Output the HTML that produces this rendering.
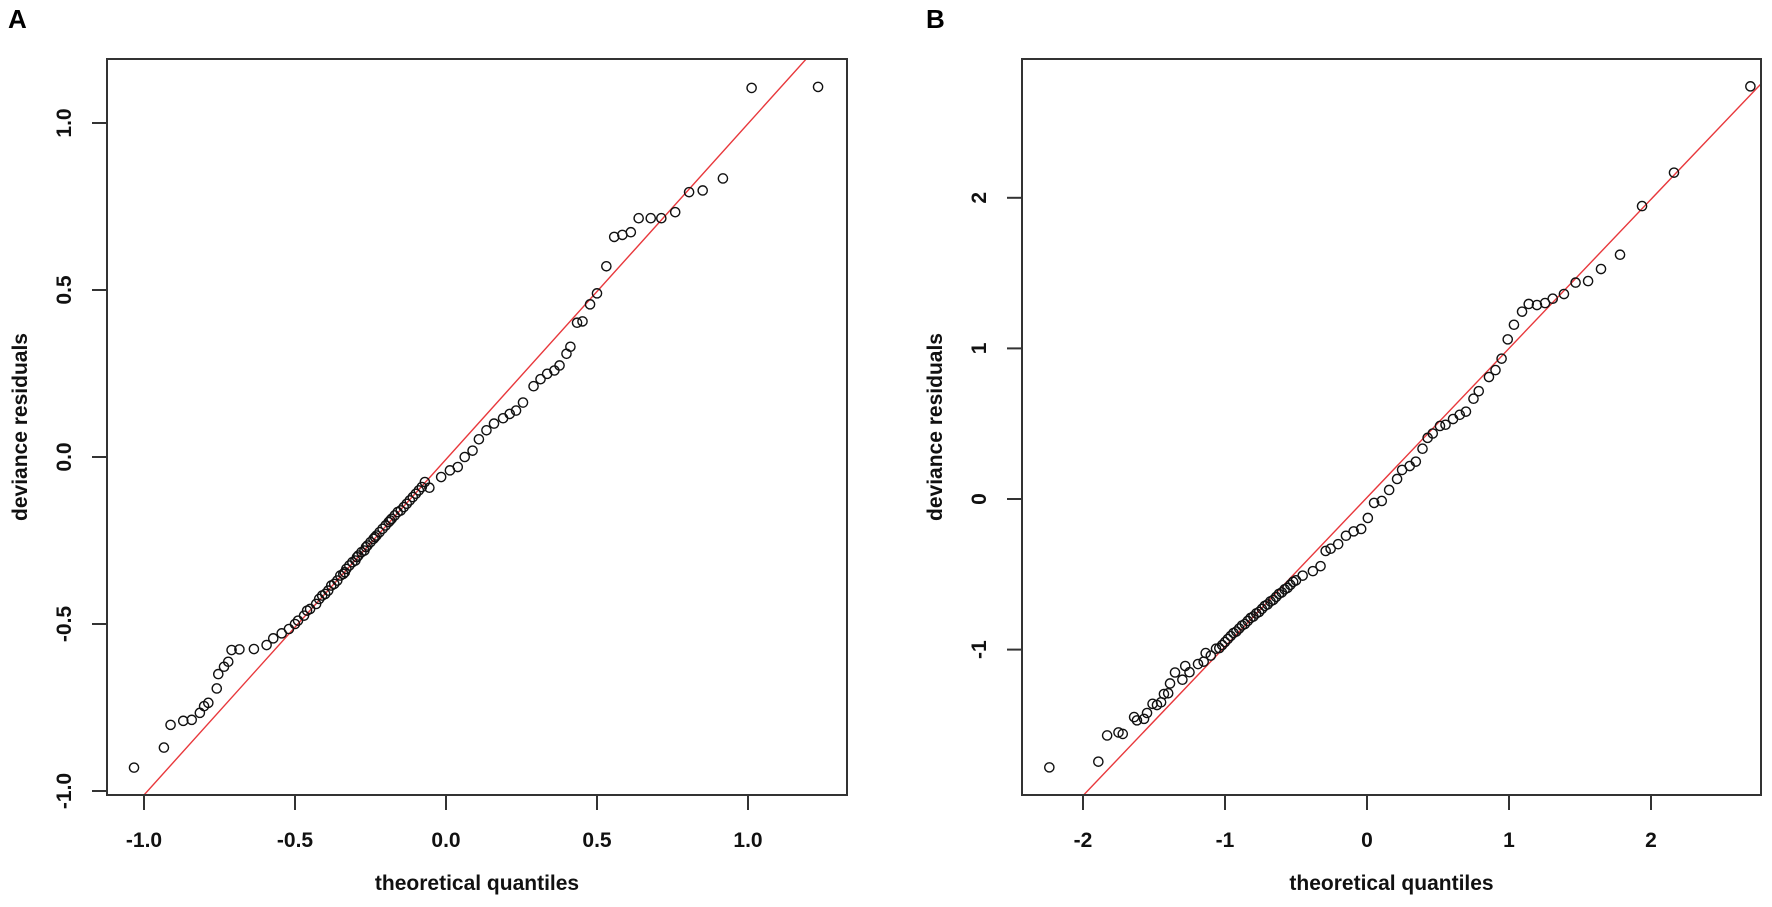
<!DOCTYPE html>
<html><head><meta charset="utf-8">
<style>
html,body{margin:0;padding:0;background:#fff;}
svg{display:block;font-family:"Liberation Sans",Arial,sans-serif;}
.tk{font-size:21px;font-weight:bold;fill:#111;}
.tt{font-size:21px;font-weight:bold;fill:#111;}
.pl{font-size:26px;font-weight:bold;fill:#000;}
</style></head>
<body>
<svg id="chart" width="1772" height="907" viewBox="0 0 1772 907"></svg>
<script>
// Panel A data
const aX = [-1.033,-0.934,-0.912,-0.870,-0.842,-0.815,-0.801,-0.787,-0.759,-0.754,-0.735,-0.721,-0.710,-0.684,-0.636,-0.594,-0.572,-0.544,
 -0.52,-0.50,-0.49,-0.47,-0.46,-0.45,-0.43,-0.42,-0.41,-0.40,-0.39,-0.38,-0.37,-0.36,-0.35,-0.34,-0.335,-0.33,-0.32,-0.31,-0.30,-0.295,-0.29,-0.28,-0.27,-0.265,-0.26,-0.25,-0.24,-0.235,-0.23,-0.22,-0.21,-0.20,-0.19,-0.185,-0.18,-0.17,-0.16,-0.15,-0.14,-0.13,-0.12,-0.11,-0.10,-0.09,-0.08,-0.07,
 -0.055,-0.016,0.013,0.039,0.062,0.088,0.109,0.134,0.159,0.189,0.211,0.232,0.255,0.290,0.313,0.335,0.359,0.376,0.399,0.412,0.434,0.452,0.477,0.500,0.531,0.557,0.584,0.612,0.638,0.678,0.713,0.759,0.805,0.850,0.917,1.012,1.232];
const aY = [-0.930,-0.870,-0.802,-0.790,-0.787,-0.766,-0.746,-0.736,-0.693,-0.650,-0.628,-0.613,-0.578,-0.576,-0.575,-0.563,-0.543,-0.528,
 -0.515,-0.50,-0.49,-0.475,-0.46,-0.455,-0.44,-0.425,-0.415,-0.41,-0.40,-0.385,-0.38,-0.37,-0.355,-0.35,-0.345,-0.335,-0.325,-0.315,-0.31,-0.30,-0.295,-0.285,-0.28,-0.27,-0.265,-0.255,-0.245,-0.24,-0.235,-0.225,-0.215,-0.205,-0.195,-0.19,-0.185,-0.175,-0.165,-0.16,-0.15,-0.14,-0.13,-0.12,-0.11,-0.10,-0.09,-0.075,
 -0.092,-0.060,-0.040,-0.030,0.000,0.019,0.053,0.080,0.100,0.116,0.129,0.139,0.163,0.212,0.233,0.249,0.259,0.274,0.309,0.330,0.402,0.406,0.457,0.490,0.571,0.659,0.665,0.673,0.715,0.715,0.715,0.733,0.793,0.798,0.834,1.105,1.108];
const aXTicks = [-1.0,-0.5,0.0,0.5,1.0];
const aXTickLabels = ["-1.0","-0.5","0.0","0.5","1.0"];
const aYTicks = [-1.0,-0.5,0.0,0.5,1.0];
const aYTickLabels = ["-1.0","-0.5","0.0","0.5","1.0"];
const aLine = [1.005,-0.007]; // slope, intercept

// Panel B data
const bX = [-2.237,-1.892,-1.83,-1.75,-1.72,-1.64,-1.62,-1.57,-1.549,-1.51,-1.479,-1.45,-1.43,-1.40,-1.387,-1.352,-1.30,-1.28,-1.25,-1.19,-1.15,-1.136,-1.10,-1.063,
 -1.04,-1.02,-1.00,-0.98,-0.96,-0.94,-0.92,-0.90,-0.88,-0.86,-0.84,-0.82,-0.80,-0.78,-0.76,-0.74,-0.72,-0.70,-0.68,-0.66,-0.64,-0.62,-0.60,-0.58,-0.56,-0.54,-0.52,-0.50,
 -0.453,-0.381,-0.327,-0.291,-0.256,-0.203,-0.148,-0.094,-0.041,0.006,0.050,0.104,0.156,0.212,0.247,0.301,0.344,0.391,0.427,0.463,0.514,0.553,0.606,0.653,0.697,0.750,0.787,0.859,0.905,0.948,0.991,1.035,1.092,1.139,1.197,1.254,1.308,1.387,1.469,1.557,1.648,1.782,1.937,2.162,2.70];
const bY = [-1.782,-1.744,-1.57,-1.55,-1.56,-1.448,-1.47,-1.46,-1.421,-1.36,-1.368,-1.35,-1.295,-1.29,-1.225,-1.152,-1.20,-1.109,-1.15,-1.096,-1.08,-1.023,-1.04,-0.994,
 -0.99,-0.97,-0.95,-0.93,-0.91,-0.89,-0.88,-0.86,-0.84,-0.83,-0.81,-0.79,-0.78,-0.76,-0.75,-0.73,-0.71,-0.70,-0.68,-0.67,-0.65,-0.63,-0.62,-0.60,-0.59,-0.57,-0.55,-0.54,
 -0.509,-0.479,-0.446,-0.345,-0.330,-0.300,-0.244,-0.215,-0.199,-0.126,-0.026,-0.013,0.060,0.133,0.193,0.219,0.248,0.334,0.406,0.435,0.485,0.493,0.531,0.559,0.580,0.666,0.716,0.810,0.856,0.932,1.060,1.157,1.244,1.295,1.288,1.301,1.330,1.361,1.437,1.447,1.527,1.622,1.945,2.167,2.74];
const bXTicks = [-2,-1,0,1,2];
const bXTickLabels = ["-2","-1","0","1","2"];
const bYTicks = [-1,0,1,2];
const bYTickLabels = ["-1","0","1","2"];
const bLine = [0.99,0.01];

const NS = "http://www.w3.org/2000/svg";
const svg = document.getElementById("chart");
function mk(tag, attrs, parent){
  const e = document.createElementNS(NS, tag);
  for (const k in attrs) e.setAttribute(k, attrs[k]);
  (parent||svg).appendChild(e);
  return e;
}

function panel(cfg){
  const g = mk("g", {});
  
  
  const sx = v => cfg.x0 + cfg.kx * v;
  const sy = v => cfg.y0 - cfg.ky * v;
  const L = cfg.box[0], R = cfg.box[1], T = cfg.box[2], B = cfg.box[3];
  // clip
  const cp = mk("clipPath", {id: cfg.name + "-clip"}, g);
  mk("rect", {x:L, y:T, width:R-L, height:B-T}, cp);
  // red line
  const xa = (L - cfg.x0)/cfg.kx, xb = (R - cfg.x0)/cfg.kx;
  const ln = mk("line", {x1:sx(xa), y1:sy(cfg.line[0]*xa+cfg.line[1]), x2:sx(xb), y2:sy(cfg.line[0]*xb+cfg.line[1]),
    stroke:"#e8383c", "stroke-width":1.4, "clip-path":"url(#"+cfg.name+"-clip)"}, g);
  
  
  // points
  for (let i=0;i<cfg.xs.length;i++){
    const c = mk("circle", {cx:sx(cfg.xs[i]), cy:sy(cfg.ys[i]), r:4.6, fill:"none", stroke:"#111", "stroke-width":1.4}, g);
    
    
  }
  // box
  const bx = mk("rect", {x:L, y:T, width:R-L, height:B-T, fill:"none", stroke:"#333", "stroke-width":2}, g);
  
  
  // x ticks
  cfg.xt.forEach((v,i)=>{
    const t = mk("line", {x1:sx(v), x2:sx(v), y1:B, y2:B+15, stroke:"#333", "stroke-width":2}, g);
    
    
    const tx = mk("text", {x:sx(v), y:847, "text-anchor":"middle", "class":"tk"}, g);
    tx.textContent = cfg.xtl[i];
    
    
  });
  // y ticks
  cfg.yt.forEach((v,i)=>{
    const t = mk("line", {x1:L-15, x2:L, y1:sy(v), y2:sy(v), stroke:"#333", "stroke-width":2}, g);
    
    
    const tx = mk("text", {x:0, y:0, "text-anchor":"middle", "class":"tk",
      transform:"translate("+(L-36)+","+sy(v)+") rotate(-90)"}, g);
    tx.textContent = cfg.ytl[i];
    
    
  });
  const xt = mk("text", {x:(L+R)/2, y:890, "text-anchor":"middle", "class":"tt"}, g);
  xt.textContent = "theoretical quantiles";
  
  
  const yt = mk("text", {x:0, y:0, "text-anchor":"middle", "class":"tt",
    transform:"translate("+(L-80)+","+((T+B)/2)+") rotate(-90)"}, g);
  yt.textContent = "deviance residuals";
  
  
  const pl = mk("text", {x:cfg.labelX, y:28, "class":"pl"}, g);
  pl.textContent = cfg.label;
  
  
}

panel({name:"panel-a", x0:446, kx:302, y0:457, ky:334, box:[107,847,59,795],
  xs:aX, ys:aY, xt:aXTicks, xtl:aXTickLabels, yt:aYTicks, ytl:aYTickLabels, line:aLine, label:"A", labelX:8});
panel({name:"panel-b", x0:1367, kx:142, y0:499, ky:150.6, box:[1022,1761,59,795],
  xs:bX, ys:bY, xt:bXTicks, xtl:bXTickLabels, yt:bYTicks, ytl:bYTickLabels, line:bLine, label:"B", labelX:926});
</script>
</body></html>
